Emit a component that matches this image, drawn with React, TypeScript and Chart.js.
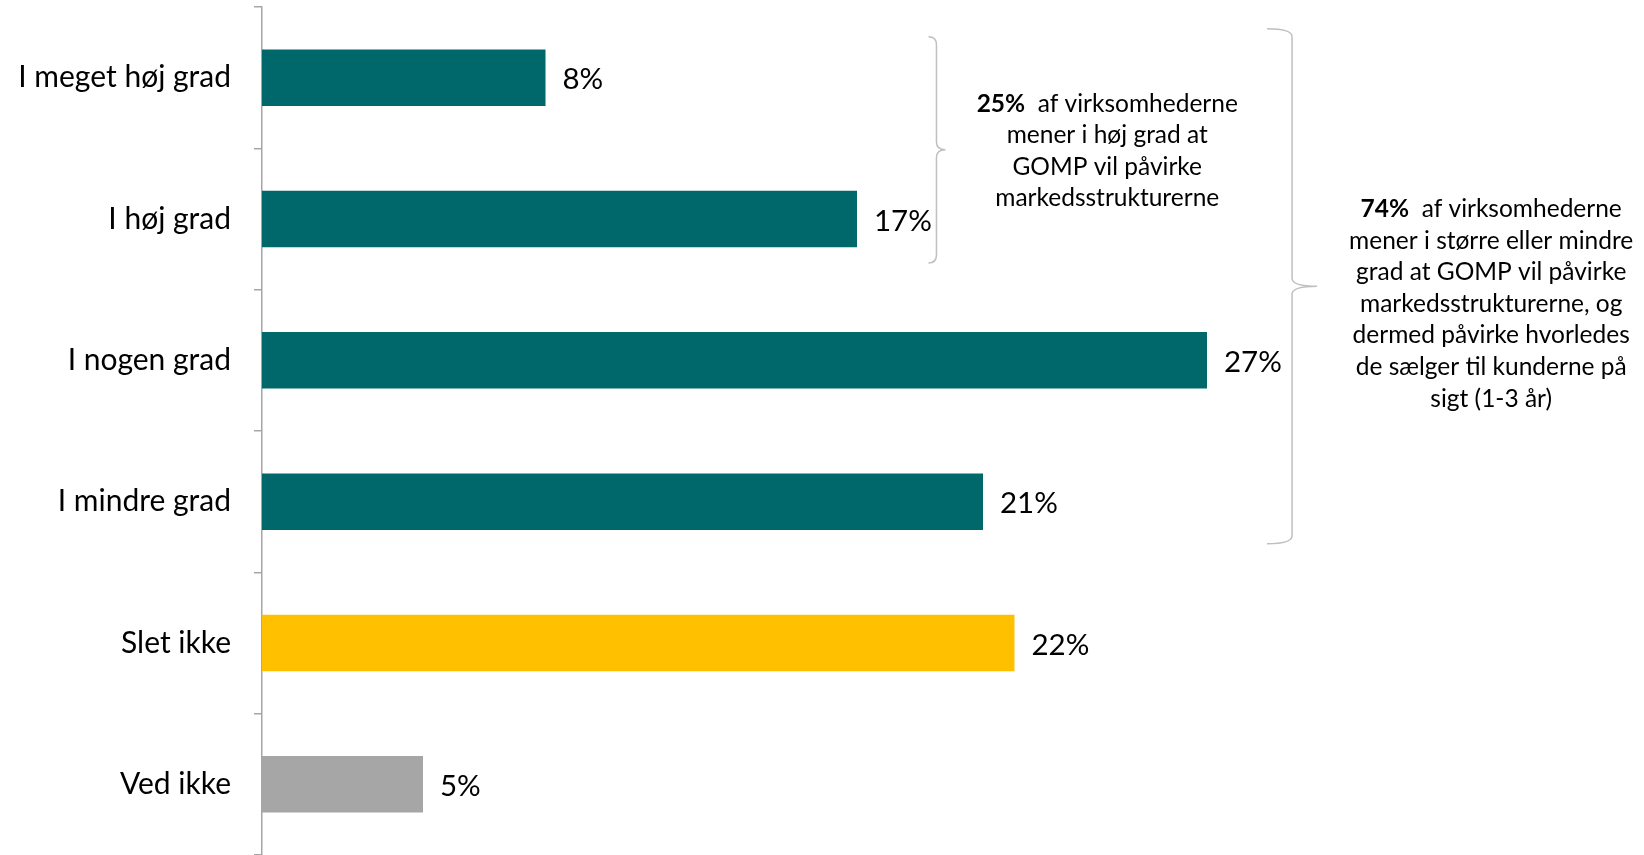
import React, { useEffect, useRef } from "react";
import { Chart, registerables } from "chart.js";
Chart.register(...registerables);

const categories = ["I meget høj grad", "I høj grad", "I nogen grad", "I mindre grad", "Slet ikke", "Ved ikke"];
const values = [8.1, 17, 27, 20.6, 21.5, 4.6];
const barColors = ["#00676B", "#00676B", "#00676B", "#00676B", "#FFC000", "#A6A6A6"];

const note1Bold = "25%";
const note1Lines = ["af virksomhederne", "mener i høj grad at", "GOMP vil påvirke", "markedsstrukturerne"];
const note2Bold = "74%";
const note2Lines = [
  "af virksomhederne",
  "mener i større eller mindre",
  "grad at GOMP vil påvirke",
  "markedsstrukturerne, og",
  "dermed påvirke hvorledes",
  "de sælger til kunderne på",
  "sigt (1-3 år)",
];

const FONT = "Lato, 'Open Sans', sans-serif";

function drawBrace(ctx: CanvasRenderingContext2D, x: number, top: number, bottom: number, hook: number, tip: number) {
  const mid = (top + bottom) / 2;
  const r = 8;
  ctx.beginPath();
  ctx.moveTo(x - hook, top);
  ctx.quadraticCurveTo(x, top, x, top + r);
  ctx.lineTo(x, mid - r);
  ctx.quadraticCurveTo(x, mid, x + tip, mid);
  ctx.quadraticCurveTo(x, mid, x, mid + r);
  ctx.lineTo(x, bottom - r);
  ctx.quadraticCurveTo(x, bottom, x - hook, bottom);
  ctx.stroke();
}

function drawNote(ctx: CanvasRenderingContext2D, cx: number, y0: number, step: number, bold: string, lines: string[]) {
  ctx.textBaseline = "middle";
  const boldFont = `bold 24.5px ${FONT}`;
  const normFont = `24.5px ${FONT}`;
  ctx.font = boldFont;
  const bw = ctx.measureText(bold).width;
  ctx.font = normFont;
  const first = "  " + lines[0];
  const fw = ctx.measureText(first).width;
  const start = cx - (bw + fw) / 2;
  ctx.textAlign = "left";
  ctx.font = boldFont;
  ctx.fillText(bold, start, y0);
  ctx.font = normFont;
  ctx.fillText(first, start + bw, y0);
  ctx.textAlign = "center";
  for (let i = 1; i < lines.length; i++) {
    ctx.fillText(lines[i], cx, y0 + i * step);
  }
}

export default function App() {
  const ref = useRef<HTMLCanvasElement>(null);
  useEffect(() => {
    document.body.style.margin = "0";
    if (!ref.current) return;
    const overlay = {
      id: "overlay",
      afterDatasetsDraw(chart: any) {
        const ctx: CanvasRenderingContext2D = chart.ctx;
        const xs = chart.scales.x;
        const ys = chart.scales.y;
        const meta = chart.getDatasetMeta(0);
        ctx.save();
        ctx.fillStyle = "#000";
        ctx.font = `29.5px ${FONT}`;
        ctx.textBaseline = "middle";
        ctx.textAlign = "left";
        meta.data.forEach((bar: any, i: number) => {
          ctx.fillText(Math.round(values[i]) + "%", bar.x + 17, bar.y + 2);
        });
        ctx.strokeStyle = "#BFBFBF";
        ctx.lineWidth = 1.5;
        drawBrace(ctx, xs.getPixelForValue(19.27), ys.getPixelForValue(0) - 41, ys.getPixelForValue(1) + 44, 8, 9);
        drawBrace(ctx, xs.getPixelForValue(29.43), ys.getPixelForValue(0) - 49, ys.getPixelForValue(3) + 42, 25, 25);
        drawNote(ctx, xs.getPixelForValue(24.15), ys.getPixelForValue(0) + 26, 31.6, note1Bold, note1Lines);
        drawNote(ctx, xs.getPixelForValue(35.12), ys.getPixelForValue(1) - 10, 31.6, note2Bold, note2Lines);
        ctx.restore();
      },
    };
    const chart = new Chart(ref.current, {
      type: "bar",
      data: {
        labels: categories,
        datasets: [
          {
            data: values,
            backgroundColor: barColors,
            borderWidth: 0,
            barPercentage: 0.4,
            categoryPercentage: 1,
          },
        ],
      },
      options: {
        indexAxis: "y",
        animation: false,
        responsive: false,
        maintainAspectRatio: false,
        layout: { padding: { top: 7, right: 52, bottom: 0, left: 0 } },
        plugins: { legend: { display: false }, tooltip: { enabled: false } },
        scales: {
          x: { display: false, min: 0, max: 38 },
          y: {
            afterFit: (s: any) => {
              s.width = 262;
              s.paddingTop = 0;
              s.paddingBottom = 0;
            },
            border: { color: "#A6A6A6", width: 1.5 },
            grid: { offset: true, drawOnChartArea: false, tickLength: 8, color: "#A6A6A6", lineWidth: 1.5 },
            ticks: { padding: 23, color: "#000", font: { family: FONT, size: 30 } },
          },
        },
      },
      plugins: [overlay],
    });
    return () => chart.destroy();
  }, []);
  return <canvas ref={ref} width={1644} height={855} style={{ display: "block" }} />;
}
